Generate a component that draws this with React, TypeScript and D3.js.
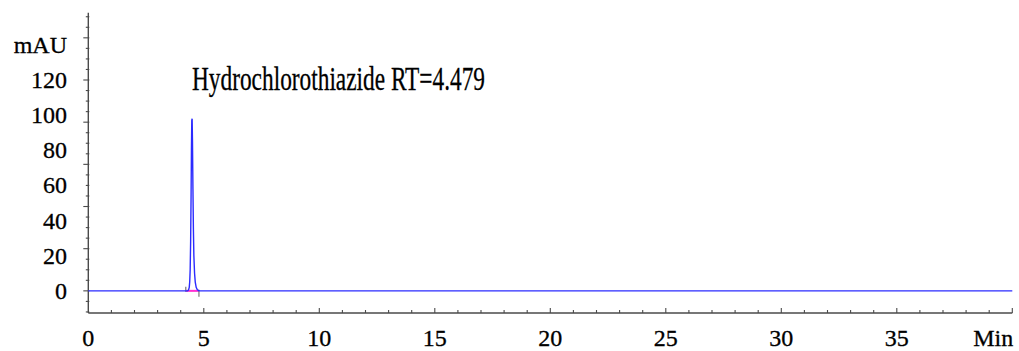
import { useEffect, useRef } from 'react';
import * as d3 from 'd3';

// chromatogram trace (min, mAU)
const traceTime = [0, 4.2, 4.3, 4.34, 4.37, 4.39, 4.41, 4.43, 4.45, 4.465, 4.48, 4.495, 4.51, 4.53, 4.55, 4.57, 4.6, 4.63, 4.67, 4.72, 4.8, 40];
const traceMAU = [0, 0, 0, 0.5, 2, 5, 12, 28, 55, 80, 97, 98, 85, 58, 35, 20, 10, 5, 2, 0.6, 0, 0];

// integration baseline under the peak
const baseStart = 4.22;
const baseEnd = 4.79;

const peakLabel = 'Hydrochlorothiazide RT=4.479';
const xTickLabels = ['0', '5', '10', '15', '20', '25', '30', '35', 'Min'];
const xTickValues = [0, 5, 10, 15, 20, 25, 30, 35, 40];
const yTickLabels = ['0', '20', '40', '60', '80', '100', '120', 'mAU'];
const yTickValues = [0, 20, 40, 60, 80, 100, 120, 140];

export default function App() {
  const svgRef = useRef<SVGSVGElement>(null);

  useEffect(() => {
    document.body.style.margin = '0';
    const width = 1019;
    const height = 351;
    const svg = d3.select(svgRef.current);
    svg.selectAll('*').remove();
    svg.attr('width', width).attr('height', height);

    const x = d3.scaleLinear().domain([0, 40]).range([88.3, 1012.3]);
    const y = d3.scaleLinear().domain([-12.6, 158.3]).range([313, 12.7]);
    const axisColor = '#4a4a4a';
    const font = 'Liberation Serif, Tinos, Times New Roman, Times, DejaVu Serif, serif';

    // axis lines
    svg.append('line')
      .attr('x1', x(0)).attr('x2', x(0))
      .attr('y1', y(158.3)).attr('y2', y(-12.6))
      .attr('stroke', axisColor).attr('stroke-width', 1.4);
    svg.append('line')
      .attr('x1', x(0)).attr('x2', x(40))
      .attr('y1', y(-12.6)).attr('y2', y(-12.6))
      .attr('stroke', axisColor).attr('stroke-width', 1.6);

    // y ticks: majors every 24, minors every 6
    d3.range(-12, 157, 6).forEach((v) => {
      const major = v % 24 === 0;
      svg.append('line')
        .attr('x1', x(0) - (major ? 5 : 2.5)).attr('x2', x(0) + 1)
        .attr('y1', y(v)).attr('y2', y(v))
        .attr('stroke', axisColor).attr('stroke-width', 1.1);
    });

    // x ticks: majors every 5, minors every 1 (pointing up)
    d3.range(1, 41, 1).forEach((v) => {
      const major = v % 5 === 0;
      svg.append('line')
        .attr('x1', x(v)).attr('x2', x(v))
        .attr('y1', y(-12.6)).attr('y2', y(-12.6) - (major ? 5 : 3))
        .attr('stroke', axisColor).attr('stroke-width', 1.1);
    });

    // tick labels
    yTickValues.forEach((v, i) => {
      svg.append('text')
        .attr('x', 67).attr('y', y(v) + 8)
        .attr('text-anchor', 'end')
        .style('font-family', font).style('font-size', '24px')
        .attr('fill', '#000').attr('stroke', '#000').attr('stroke-width', 0.3)
        .text(yTickLabels[i]);
    });
    xTickValues.forEach((v, i) => {
      const last = i === xTickValues.length - 1;
      svg.append('text')
        .attr('x', last ? x(v) + 1 : x(v)).attr('y', 346)
        .attr('text-anchor', last ? 'end' : 'middle')
        .style('font-family', font).style('font-size', '24px')
        .attr('fill', '#000').attr('stroke', '#000').attr('stroke-width', 0.3)
        .text(xTickLabels[i]);
    });

    // integration baseline + markers
    svg.append('line')
      .attr('x1', x(baseStart)).attr('x2', x(baseEnd))
      .attr('y1', y(0)).attr('y2', y(0))
      .attr('stroke', '#ff2fd0').attr('stroke-width', 2);
    svg.append('line')
      .attr('x1', x(baseStart)).attr('x2', x(baseStart))
      .attr('y1', y(0) - 4).attr('y2', y(0) + 1)
      .attr('stroke', '#777').attr('stroke-width', 1.2);
    svg.append('line')
      .attr('x1', x(baseEnd)).attr('x2', x(baseEnd))
      .attr('y1', y(0) - 1).attr('y2', y(0) + 6)
      .attr('stroke', '#777').attr('stroke-width', 1.2);

    // trace
    const pts = traceTime.map((t, i) => [t, traceMAU[i]] as [number, number]);
    svg.append('path')
      .datum(pts)
      .attr('d', d3.line<[number, number]>().x(d => x(d[0])).y(d => y(d[1])))
      .attr('fill', 'none')
      .attr('stroke', '#2b2bff')
      .attr('stroke-width', 1.4);

    // peak annotation
    svg.append('text')
      .attr('x', 192).attr('y', 90)
      .style('font-family', font).style('font-size', '33px')
      .attr('textLength', 293).attr('lengthAdjust', 'spacingAndGlyphs')
      .attr('fill', '#000').attr('stroke', '#000').attr('stroke-width', 0.3)
      .text(peakLabel);
  }, []);

  return <svg ref={svgRef} style={{ display: 'block' }}></svg>;
}
